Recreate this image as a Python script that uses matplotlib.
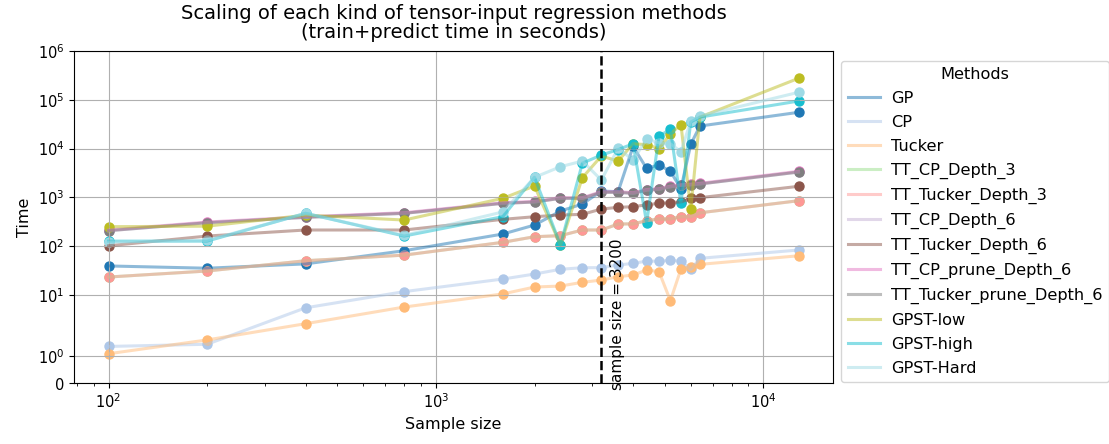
import numpy as np
import matplotlib
matplotlib.use("Agg")
import matplotlib.pyplot as plt

sample_sizes = [100, 200, 400, 800, 1600, 2000, 2400, 2800, 3200, 3600,
                4000, 4400, 4800, 5200, 5600, 6000, 6400, 12800]

methods = ["GP", "CP", "Tucker", "TT_CP_Depth_3", "TT_Tucker_Depth_3",
           "TT_CP_Depth_6", "TT_Tucker_Depth_6", "TT_CP_prune_Depth_6",
           "TT_Tucker_prune_Depth_6", "GPST-low", "GPST-high", "GPST-Hard"]

gp = [39, 35, 43, 80, 176, 269, 521, 726, 1340, 1300, 11000, 3900, 4600, 3400, 1500, 12200, 28900, 55200]
cp = [1.35, 1.43, 5.4, 11.6, 21, 26.6, 33.3, 35.9, 36, 40.7, 44, 49, 49, 50.6, 49, 33, 55.9, 82.7]
tucker = [1.08, 1.59, 2.55, 5.6, 10.4, 14.4, 15.1, 18, 20, 23.4, 25.4, 32.2, 29.7, 7.55, 33.7, 37.6, 42, 63]
tt_cp_d3 = [23.1, 30.7, 49.9, 65, 119, 155, 163, 213, 213, 282, 285, 330, 360, 360, 400, 400, 480, 849]
tt_tucker_d3 = [23.1, 30.7, 49.9, 65, 119, 155, 163, 213, 213, 282, 285, 330, 360, 360, 400, 400, 480, 849]
tt_cp_d6 = [206, 300, 387, 468, 750, 798, 950, 950, 1260, 1260, 1200, 1400, 1450, 1640, 1750, 1800, 1870, 3290]
tt_tucker_d6 = [101, 160, 213, 213, 352, 399, 432, 446, 573, 621, 640, 700, 750, 780, 800, 950, 980, 1675]
tt_cp_prune_d6 = [212, 310, 398, 482, 772, 822, 980, 980, 1300, 1300, 1240, 1440, 1500, 1690, 1800, 1850, 1930, 3400]
tt_tucker_prune_d6 = [206, 300, 387, 468, 750, 798, 950, 950, 1260, 1260, 1200, 1400, 1450, 1640, 1750, 1800, 1870, 3290]
gpst_low = [249, 255, 430, 341, 950, 1700, 105, 2520, 7000, 5530, 12500, 12000, 10000, 20000, 31000, 565, 44000, 275000]
gpst_high = [126, 126, 468, 160, 400, 2560, 105, 5000, 7340, 9500, 12500, 300, 18000, 24700, 750, 35000, 44000, 94000]
gpst_hard = [120, 130, 468, 165, 500, 2560, 4230, 5530, 2250, 10070, 5800, 15600, 13100, 12500, 8600, 36800, 46300, 142000]

series = [gp, cp, tucker, tt_cp_d3, tt_tucker_d3, tt_cp_d6, tt_tucker_d6,
          tt_cp_prune_d6, tt_tucker_prune_d6, gpst_low, gpst_high, gpst_hard]

colors = plt.cm.tab20(np.linspace(0, 1, len(methods)))

fig = plt.figure(figsize=(11.09, 4.44), dpi=100)
ax = fig.add_axes([74/1109, (444-383)/444, 759/1109, 332/444])

for name, vals, c in zip(methods, series, colors):
    ax.plot(sample_sizes, vals, '-', color=c, alpha=0.5, lw=2.2, label=name)
    ax.scatter(sample_sizes, vals, color=c, s=42)

ax.axvline(3200, color='black', linestyle='--', lw=1.8)
ax.text(3400, -0.02, 'sample size = 3200', rotation=90, va='bottom', ha='left',
        fontsize=11, transform=ax.get_xaxis_transform())

ax.set_xscale('log')
ax.set_yscale('symlog', linthresh=2)
ax.set_ylim(0, 1e6)
ax.set_yticks([0, 1, 10, 100, 1e3, 1e4, 1e5, 1e6])
ax.tick_params(labelsize=10.5)
ax.grid(True)
ax.set_xlabel('Sample size', fontsize=11.5)
ax.set_ylabel('Time', fontsize=11.5)
ax.set_title('Scaling of each kind of tensor-input regression methods\n(train+predict time in seconds)',
             fontsize=14, linespacing=1.05, pad=9)
ax.legend(title='Methods', loc='upper left', bbox_to_anchor=(1.0, 0.995), fontsize=11.6,
          title_fontsize=11.6, labelspacing=0.55, handletextpad=0.7)

fig.savefig('out.png', dpi=100)
